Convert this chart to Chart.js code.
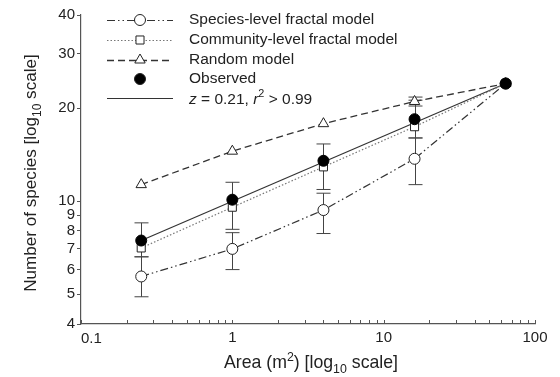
<!DOCTYPE html>
<html>
<head>
<meta charset="utf-8">
<script src="https://cdn.jsdelivr.net/npm/chart.js@4/dist/chart.umd.min.js"></script>
<style>
  html, body { margin: 0; padding: 0; background: #fff; }
  #wrap { width: 560px; height: 377px; }
</style>
</head>
<body>
<div id="wrap"><canvas id="chart"></canvas></div>
<script>
// sampled areas (m2)
const areas = [0.25, 1, 4, 16, 64];

const speciesModel = [5.7, 7.0, 9.35, 13.7, 24.0];
const speciesLow = [4.9, 6.0, 7.85, 11.3, null];
const speciesHigh = [6.6, 7.9, 10.6, 16.0, null];

const communityModel = [7.05, 9.55, 12.9, 17.4, 24.0];

const randomModel = [11.3, 14.5, 17.8, 21.0, 24.0];
const randomLow = [null, null, null, 20.3, null];
const randomHigh = [null, null, null, 21.7, null];

const observed = [7.45, 10.1, 13.5, 18.4, 24.0];
const observedLow = [6.6, 8.1, 10.9, 16.0, null];
const observedHigh = [8.5, 11.5, 15.3, 21.2, null];

// z = 0.21 fit, end points
const fitAreas = [0.25, 64];
const fitValues = [7.45, 24.0];

const xTicks = [0.1, 0.2, 0.3, 0.4, 0.5, 0.6, 0.7, 0.8, 0.9, 1, 2, 3, 4, 5, 6, 7, 8, 9, 10,
                20, 30, 40, 50, 60, 70, 80, 90, 100];
const xLabels = [1, 10, 100];
const yTicks = [4, 5, 6, 7, 8, 9, 10, 20, 30, 40];

const ink = '#222';
const axisColor = '#555';
const FONT = '"Liberation Sans", Arial, Helvetica, sans-serif';

function pts(xs, ys) {
  return xs.map((x, i) => ({ x: x, y: ys[i] }));
}

// text with italic / superscript / subscript pieces
function richText(ctx, parts, x, y, size) {
  const fontFor = (m) => {
    const s = (m === 'sup' || m === 'sub') ? size * 0.7 : size;
    return (m === 'i' ? 'italic ' : '') + s + 'px ' + FONT;
  };
  let w = 0;
  parts.forEach(([t, m]) => { ctx.font = fontFor(m); w += ctx.measureText(t).width; });
  let cx = x;
  if (ctx._align === 'center') cx = x - w / 2;
  ctx.textAlign = 'left';
  ctx.textBaseline = 'alphabetic';
  parts.forEach(([t, m]) => {
    ctx.font = fontFor(m);
    let dy = 0;
    if (m === 'sup') dy = -size * 0.4;
    if (m === 'sub') dy = size * 0.28;
    ctx.fillText(t, cx, y + dy);
    cx += ctx.measureText(t).width;
  });
}

const errorBars = {
  id: 'errorBars',
  beforeDatasetsDraw(chart) {
    const { ctx, scales } = chart;
    const sets = [[speciesLow, speciesHigh], [observedLow, observedHigh], [randomLow, randomHigh]];
    ctx.save();
    ctx.strokeStyle = '#444';
    ctx.lineWidth = 1;
    sets.forEach(([lo, hi]) => {
      areas.forEach((a, i) => {
        if (lo[i] == null) return;
        const x = Math.round(scales.x.getPixelForValue(a)) + 0.5;
        const y1 = scales.y.getPixelForValue(lo[i]);
        const y2 = scales.y.getPixelForValue(hi[i]);
        ctx.beginPath();
        ctx.moveTo(x, y1); ctx.lineTo(x, y2);
        ctx.moveTo(x - 7, y1); ctx.lineTo(x + 7, y1);
        ctx.moveTo(x - 7, y2); ctx.lineTo(x + 7, y2);
        ctx.stroke();
      });
    });
    ctx.restore();
  }
};

const decorations = {
  id: 'decorations',
  afterDraw(chart) {
    const { ctx, scales, chartArea } = chart;
    ctx.save();
    // inward x ticks
    ctx.strokeStyle = axisColor;
    ctx.lineWidth = 1;
    xTicks.forEach(v => {
      const x = Math.round(scales.x.getPixelForValue(v)) + 0.5;
      ctx.beginPath();
      ctx.moveTo(x, chartArea.bottom);
      ctx.lineTo(x, chartArea.bottom - 4);
      ctx.stroke();
    });
    // 0.1 label sits to the right of the corner
    ctx.fillStyle = ink;
    ctx.font = '15px ' + FONT;
    ctx.textAlign = 'left';
    ctx.textBaseline = 'middle';
    ctx.fillText('0.1', chartArea.left, chartArea.bottom + 15);

    // axis titles
    ctx._align = 'center';
    richText(ctx, [['Area (m', 'n'], ['2', 'sup'], [') [log', 'n'], ['10', 'sub'], [' scale]', 'n']],
      311, 368, 17.7);
    ctx.save();
    ctx.translate(36, 173);
    ctx.rotate(-Math.PI / 2);
    ctx._align = 'center';
    richText(ctx, [['Number of species [log', 'n'], ['10', 'sub'], [' scale]', 'n']], 0, 0, 17.1);
    ctx.restore();

    // legend
    const rows = [
      { y: 20, dash: [8, 3, 1.5, 3, 1.5, 3], color: '#333', w: 1.2, marker: 'circle', fill: '#fff' },
      { y: 40, dash: [1.5, 2], color: '#777', w: 1.2, marker: 'rect', fill: '#fff' },
      { y: 60, dash: [7, 4], color: '#333', w: 1.3, marker: 'triangle', fill: '#fff' },
      { y: 79, dash: null, marker: 'circle', fill: '#000' },
      { y: 98, dash: [], color: '#333', w: 1.2, marker: null }
    ];
    const labels = ['Species-level fractal model', 'Community-level fractal model', 'Random model', 'Observed'];
    rows.forEach((r, i) => {
      if (r.dash) {
        ctx.save();
        ctx.strokeStyle = r.color;
        ctx.lineWidth = r.w;
        ctx.setLineDash(r.dash);
        ctx.beginPath();
        ctx.moveTo(107, r.y + 0.5);
        ctx.lineTo(173, r.y + 0.5);
        ctx.stroke();
        ctx.restore();
      }
      if (r.marker) {
        ctx.save();
        ctx.fillStyle = r.fill;
        ctx.strokeStyle = '#222';
        ctx.lineWidth = 1;
        Chart.helpers.drawPoint(ctx, {
          pointStyle: r.marker,
          radius: r.marker === 'rect' ? 5.7 : (r.marker === 'triangle' ? 6 : 5.5),
          rotation: 0, borderWidth: 1
        }, 140, r.y);
        ctx.restore();
      }
      ctx.fillStyle = ink;
      if (i < 4) {
        ctx.font = '15.5px ' + FONT;
        ctx.textAlign = 'left';
        ctx.textBaseline = 'middle';
        ctx.fillText(labels[i], 189, r.y);
      } else {
        ctx._align = 'left';
        richText(ctx, [['z', 'i'], [' = 0.21, ', 'n'], ['r', 'i'], ['2', 'sup'], [' > 0.99', 'n']],
          189, r.y + 5.5, 15.5);
      }
    });
    ctx.restore();
  }
};

new Chart(document.getElementById('chart'), {
  type: 'line',
  data: {
    datasets: [
      {
        label: 'z = 0.21 fit',
        data: pts(fitAreas, fitValues),
        borderColor: '#333', borderWidth: 1.2,
        pointRadius: 0, order: 5
      },
      {
        label: 'Species-level fractal model',
        data: pts(areas, speciesModel),
        borderColor: '#333', borderWidth: 1.2,
        borderDash: [8, 3, 1.5, 3, 1.5, 3],
        pointStyle: 'circle', pointRadius: 5.5,
        pointBackgroundColor: '#fff', pointBorderColor: '#222', pointBorderWidth: 1,
        order: 4
      },
      {
        label: 'Community-level fractal model',
        data: pts(areas, communityModel),
        borderColor: '#777', borderWidth: 1.2,
        borderDash: [1.5, 2],
        pointStyle: 'rect', pointRadius: 5.7,
        pointBackgroundColor: '#fff', pointBorderColor: '#222', pointBorderWidth: 1,
        order: 3
      },
      {
        label: 'Random model',
        data: pts(areas, randomModel),
        borderColor: '#333', borderWidth: 1.3,
        borderDash: [7, 4],
        pointStyle: 'triangle', pointRadius: 6,
        pointBackgroundColor: '#fff', pointBorderColor: '#222', pointBorderWidth: 1,
        order: 2
      },
      {
        label: 'Observed',
        data: pts(areas, observed),
        showLine: false,
        pointStyle: 'circle', pointRadius: 5.5,
        pointBackgroundColor: '#000', pointBorderColor: '#000', pointBorderWidth: 1,
        order: 1
      }
    ]
  },
  options: {
    responsive: true,
    maintainAspectRatio: false,
    animation: false,
    layout: { padding: { top: 15, right: 25, left: 0, bottom: 0 } },
    plugins: { legend: { display: false }, tooltip: { enabled: false } },
    elements: { line: { tension: 0 } },
    scales: {
      x: {
        type: 'logarithmic',
        min: 0.1, max: 100,
        afterBuildTicks: (s) => { s.ticks = xTicks.map(v => ({ value: v })); },
        afterFit: (s) => { s.height = 53; },
        ticks: {
          color: ink, font: { family: FONT, size: 15 }, padding: 5,
          maxRotation: 0, autoSkip: false,
          callback: (v) => xLabels.includes(v) ? String(v) : ''
        },
        grid: { drawOnChartArea: false, drawTicks: false },
        border: { color: axisColor, width: 1.2 }
      },
      y: {
        type: 'logarithmic',
        min: 4, max: 40,
        afterBuildTicks: (s) => { s.ticks = yTicks.map(v => ({ value: v })); },
        afterFit: (s) => { s.width = 81; },
        ticks: {
          color: ink, font: { family: FONT, size: 15 }, padding: 2,
          autoSkip: false,
          callback: (v) => String(v)
        },
        grid: { drawOnChartArea: false, drawTicks: true, tickLength: 4, color: axisColor },
        border: { color: axisColor, width: 1.2 }
      }
    }
  },
  plugins: [errorBars, decorations]
});
</script>
</body>
</html>
